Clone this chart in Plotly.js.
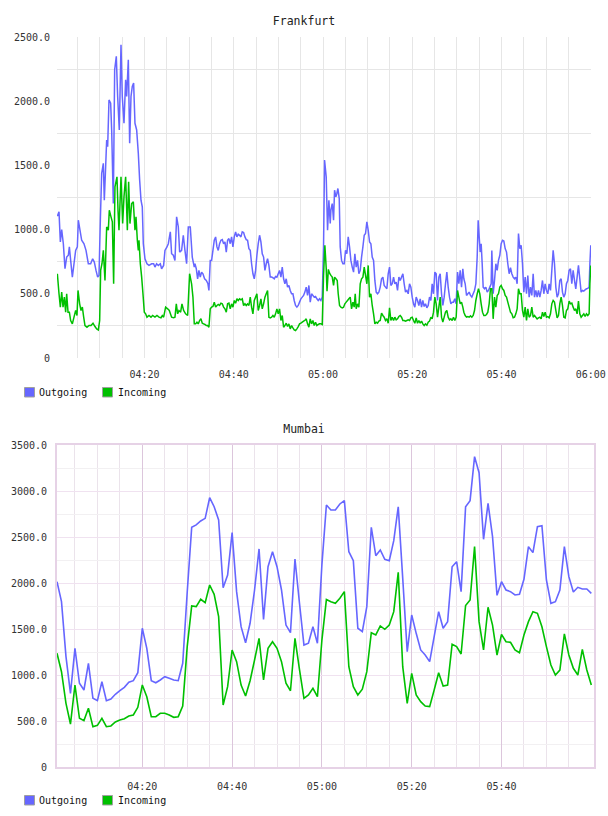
<!DOCTYPE html>
<html>
<head>
<meta charset="utf-8">
<title>Frankfurt / Mumbai traffic</title>
<script src="https://cdn.plot.ly/plotly-3.0.1.min.js"></script>
<style>
  html, body { margin: 0; padding: 0; background: #fff; }
  #frankfurt, #mumbai { width: 608px; height: 408px; }
</style>
</head>
<body>
<div id="frankfurt"></div>
<div id="mumbai"></div>
<script>
// ---- Series names and colours ----
const seriesNames = ['Outgoing', 'Incoming'];
const seriesColors = ['#6666ff', '#00c000'];

// ---- Time axis: minutes after 04:00 ----
const timeTickVals = [20, 40, 60, 80, 100, 120];
const timeTickText = ['04:20', '04:40', '05:00', '05:20', '05:40', '06:00'];
const fiveMinuteMarks = [5, 10, 15, 25, 30, 35, 45, 50, 55, 65, 70, 75, 85, 90, 95, 105, 110, 115, 120];

// ---- Value axes ----
const frankfurtTickVals = [0, 500, 1000, 1500, 2000, 2500];
const frankfurtTickText = ['0', '500.0', '1000.0', '1500.0', '2000.0', '2500.0'];
const mumbaiTickVals = [0, 500, 1000, 1500, 2000, 2500, 3000, 3500];
const mumbaiTickText = ['0', '500.0', '1000.0', '1500.0', '2000.0', '2500.0', '3000.0', '3500.0'];

// ---- Frankfurt: [minute after 04:00, value] ----
const frankfurtOutgoing = [
  [0.48,1104],[0.85,1138],[1.15,904],[1.45,1000],[1.82,890],[2.19,695],[2.57,786],[2.94,800],[3.17,865],[3.46,760],
  [3.84,630],[4.21,734],[4.58,838],[4.96,865],[5.18,1073],[5.55,995],[5.93,917],[6.45,890],[6.9,838],[7.42,734],
  [7.94,734],[8.39,773],[8.76,747],[9.14,682],[9.51,630],[9.81,643],[10.11,1073],[10.41,1437],[10.78,1516],[11.0,1229],
  [11.3,1490],[11.53,1698],[11.75,1646],[12.05,2010],[12.42,1984],[12.65,1776],[13.02,1203],[13.32,2245],[13.69,2349],[13.99,2037],
  [14.36,1776],[14.74,2440],[15.03,2037],[15.41,1828],[15.78,2167],[16.01,2037],[16.38,2323],[16.68,1672],[16.98,2037],[17.27,2115],
  [17.57,2141],[17.87,1828],[18.25,1776],[18.62,1594],[18.92,1385],[19.22,1229],[19.51,1177],[19.74,890],[20.11,773],[20.56,734],
  [21.01,721],[21.6,734],[22.05,734],[22.35,708],[22.72,734],[23.1,721],[23.55,734],[23.84,695],[24.29,721],[24.59,838],
  [25.04,865],[25.34,890],[25.79,982],[26.08,812],[26.46,800],[26.83,760],[27.2,1099],[27.58,1021],[27.88,825],[28.32,838],
  [28.7,956],[29.07,838],[29.44,734],[29.82,1021],[30.26,1021],[30.71,786],[31.16,708],
  [31.31,734],[31.61,695],[31.91,617],[32.2,682],[32.5,630],[32.8,669],[33.1,656],[33.47,617],[33.85,604],[34.22,578],[34.44,526],
  [34.74,760],[35.04,760],[35.34,838],[35.64,917],[35.94,943],[36.24,865],[36.53,838],[36.83,890],[37.13,917],[37.43,922],
  [37.73,890],[38.03,904],[38.33,825],[38.62,917],[38.92,930],[39.22,890],[39.52,943],[39.82,865],[40.12,943],[40.42,982],
  [40.71,943],[41.01,964],[41.31,956],[41.61,943],[41.91,982],[42.21,977],[42.51,943],[42.8,922],[43.1,917],[43.4,852],
  [43.7,838],[44.0,734],[44.3,656],[44.6,617],[44.9,682],[45.19,800],[45.49,890],[45.79,956],[46.09,904],[46.39,812],
  [46.69,786],[46.99,682],[47.28,734],[47.58,773],[47.88,721],[48.18,630],[48.48,630],[48.78,625],[49.08,617],[49.37,635],
  [49.67,630],[49.97,656],[50.27,682],[50.57,630],[50.87,708],[51.17,617],[51.46,578],[51.76,617],[52.06,552],[52.36,565],
  [52.66,526],[52.96,500],[53.26,500],[53.55,448],[53.85,409],[54.15,396],[54.45,409],[54.75,435],[55.05,461],[55.35,474],
  [55.65,487],[55.94,513],[56.24,552],[56.54,487],[56.84,565],[57.14,435],[57.44,500],[57.74,487],[58.03,474],[58.33,479],
  [58.63,461],[58.93,448],[59.23,461],[59.53,448],[59.83,474],
  [60.12,865],[60.35,1542],[60.72,1411],[61.02,995],[61.32,1229],[61.62,1047],
  [61.77,1151],[62.07,1203],[62.37,1073],[62.59,1307],[62.89,1255],[63.11,1281],[63.34,1320],[63.64,1242],[63.86,865],[64.16,760],
  [64.46,734],[64.76,734],[65.05,838],[65.35,812],[65.65,943],[65.95,865],[66.25,760],[66.55,708],[66.85,669],[67.14,812],
  [67.44,708],[67.74,760],[68.04,656],[68.34,682],[68.64,786],[68.94,865],[69.24,956],[69.53,969],[69.83,1060],[70.13,995],
  [70.43,904],[70.73,890],[71.03,786],[71.33,760],[71.62,604],[71.92,513],[72.22,500],[72.52,513],[72.82,552],[73.12,617],
  [73.42,630],[73.71,565],[74.01,552],[74.31,539],[74.61,656],[74.91,708],[75.21,565],[75.51,578],[75.81,630],[76.1,578],
  [76.4,591],[76.7,526],[77.0,630],[77.3,604],[77.6,630],[77.9,656],[78.19,578],[78.49,513],[78.79,526],[79.09,500],
  [79.39,578],[79.69,552],[79.99,474],[80.28,422],[80.58,396],[80.88,474],[81.18,448],[81.48,409],[81.78,461],[82.08,396],
  [82.37,448],[82.67,401],[82.97,422],[83.27,391],[83.57,409],[83.87,474],[84.17,448],[84.46,578],[84.76,500],[85.06,669],
  [85.36,656],[85.66,448],[85.96,630],[86.26,656],[86.56,500],[86.85,409],[87.15,474],[87.45,578],[87.75,669],[88.05,552],
  [88.35,474],[88.65,422],[88.94,435],[89.24,435],[89.54,461],[89.84,422],[90.14,669],[90.44,578],[90.74,682],[91.04,552],
  [91.33,695],
  [91.56,617],[91.86,578],[92.16,487],[92.46,500],[92.75,513],[93.05,487],[93.35,474],[93.65,500],[93.95,526],[94.25,578],
  [94.55,786],[94.77,1073],[95.0,943],[95.22,825],[95.44,890],[95.67,734],[95.89,552],[96.19,539],[96.49,552],[96.79,513],
  [97.08,526],[97.38,552],[97.68,578],[97.83,838],[98.13,500],[98.43,604],[98.73,734],[99.03,682],[99.32,760],[99.62,800],
  [99.92,890],[100.22,917],[100.52,911],[100.82,852],[101.12,825],[101.41,734],[101.71,656],[102.01,703],[102.31,656],[102.61,630],
  [102.91,617],[103.21,630],[103.5,578],[103.8,969],[104.1,852],[104.4,878],[104.7,734],[105.0,513],[105.3,630],[105.6,500],
  [105.89,643],[106.19,474],[106.49,552],[106.79,487],[107.09,656],[107.39,474],[107.69,526],[107.98,474],[108.28,526],[108.58,474],
  [108.88,526],[109.18,604],[109.48,500],[109.78,578],[110.07,526],[110.37,500],[110.67,578],[110.97,526],[111.27,682],[111.57,838],
  [111.87,734],[112.17,552],[112.46,474],[112.76,500],[113.06,604],[113.36,617],[113.66,513],[113.96,474],[114.26,500],[114.55,578],
  [114.85,604],[115.15,682],[115.45,695],[115.75,578],[116.05,682],[116.35,604],[116.64,539],[116.94,630],[117.24,721],[117.54,617],
  [117.84,513],[118.14,526],[118.44,521],[118.73,531],[119.03,539],[119.33,542],[119.63,552],[119.8,734],[120.0,878]
];

const frankfurtIncoming = [
  [0.48,656],[0.85,500],[1.15,396],[1.45,513],[1.75,396],[2.05,474],[2.34,357],[2.57,500],[2.87,357],[3.17,357],
  [3.46,292],[3.84,266],[4.21,318],[4.58,370],[4.88,331],[5.11,526],[5.48,422],[5.78,370],[6.08,396],[6.38,318],
  [6.67,253],[7.12,240],[7.57,253],[8.02,253],[8.47,271],[8.91,245],[9.29,227],[9.66,219],[9.96,292],[10.18,682],
  [10.48,734],[10.78,838],[11.15,604],[11.53,1021],[11.9,995],[12.12,1151],[12.5,1099],[12.8,1060],[13.09,578],[13.39,1333],
  [13.84,1411],[14.07,1151],[14.29,995],[14.74,1411],[15.11,1047],[15.41,1255],[15.78,1411],[16.16,995],[16.45,1372],[16.75,1047],
  [17.13,1203],[17.5,1216],[17.87,995],[18.1,1099],[18.4,917],[18.62,838],[18.77,917],[19.07,734],[19.37,630],[19.66,500],
  [19.96,357],[20.26,344],[20.56,318],[21.01,331],[21.46,318],[21.83,331],[22.35,318],[22.8,331],[23.25,318],[23.7,313],
  [23.99,331],[24.29,318],[24.74,396],[25.19,383],[25.56,370],[26.08,318],[26.53,313],[26.83,318],[27.13,422],[27.43,344],
  [27.73,370],[28.1,357],[28.4,422],[28.77,370],[29.22,344],[29.67,331],[30.11,656],[30.56,578],[30.86,474],[31.16,266],
  [31.46,266],[31.76,279],[32.05,266],[32.35,292],[32.65,305],[32.95,271],[33.25,266],[33.55,261],[33.85,253],[34.14,253],
  [34.44,240],[34.74,383],[35.04,396],[35.34,401],[35.64,435],[35.94,396],[36.24,409],[36.53,417],[36.83,409],[37.13,427],
  [37.43,422],[37.73,396],[38.03,383],[38.33,357],[38.62,422],[38.92,427],[39.22,383],[39.52,422],[39.82,396],[40.12,448],
  [40.42,427],[40.71,461],[41.01,448],[41.31,461],[41.61,453],[41.91,461],[42.21,409],[42.51,422],[42.8,409],[43.1,422],
  [43.4,409],[43.7,474],[44.0,396],[44.3,344],[44.6,448],[44.9,474],[45.19,500],[45.49,370],[45.79,409],[46.09,461],
  [46.39,383],[46.69,422],[46.99,474],[47.28,500],[47.58,526],[47.88,318],[48.18,313],[48.48,318],[48.78,331],[49.08,318],
  [49.37,344],[49.67,383],[49.97,344],[50.27,383],[50.57,292],[50.87,331],[51.17,240],[51.46,253],[51.76,271],[52.06,245],
  [52.36,266],[52.66,227],[52.96,253],[53.26,235],[53.55,219],[53.85,214],[54.15,227],[54.45,245],[54.75,266],[55.05,271],
  [55.35,279],[55.65,287],[55.94,292],[56.24,305],[56.54,266],[56.84,240],[57.14,305],[57.44,266],[57.74,292],[58.03,253],
  [58.33,279],[58.63,253],[58.93,261],[59.23,266],[59.53,266],[59.83,261],
  [60.12,640],[60.42,878],[60.72,700],[60.9,520],[61.2,690],[61.47,660],
  [61.77,643],[62.07,630],[62.37,565],[62.59,630],[62.89,617],[63.19,604],[63.41,500],[63.71,409],[64.01,396],[64.31,391],
  [64.61,396],[64.9,422],[65.2,435],[65.5,448],[65.8,461],[66.1,474],[66.4,383],[66.7,435],[66.99,396],[67.22,500],
  [67.44,383],[67.74,422],[68.04,396],[68.34,578],[68.64,617],[68.94,630],[69.24,708],[69.53,643],[69.83,578],[70.13,721],
  [70.43,474],[70.73,500],[71.03,409],[71.33,344],[71.62,266],[71.92,279],[72.22,271],[72.52,287],[72.82,292],[73.12,349],
  [73.42,331],[73.71,318],[74.01,292],[74.31,305],[74.61,271],[74.91,391],[75.21,292],[75.51,318],[75.81,292],[76.1,318],
  [76.4,297],[76.7,305],[77.0,323],[77.3,331],[77.6,318],[77.9,292],[78.19,292],[78.49,287],[78.79,292],[79.09,297],
  [79.39,292],[79.69,313],[79.99,318],[80.28,292],[80.58,271],[80.88,313],[81.18,271],[81.48,292],[81.78,271],[82.08,287],
  [82.37,266],[82.67,253],[82.97,266],[83.27,255],[83.57,279],[83.87,287],[84.17,318],[84.46,305],[84.76,357],[85.06,474],
  [85.36,422],[85.66,318],[85.96,396],[86.26,474],[86.56,318],[86.85,279],[87.15,318],[87.45,357],[87.75,370],[88.05,318],
  [88.35,297],[88.65,305],[88.94,292],[89.24,318],[89.54,292],[89.84,318],[90.14,526],[90.44,474],[90.74,422],[91.04,435],
  [91.33,396],
  [91.56,357],[91.86,331],[92.16,318],[92.46,323],[92.75,318],[93.05,328],[93.35,318],[93.65,331],[93.95,370],[94.25,448],
  [94.55,500],[94.84,539],[95.14,500],[95.44,422],[95.74,357],[96.04,331],[96.34,331],[96.64,339],[96.93,357],[97.23,422],
  [97.53,539],[97.83,539],[98.13,305],[98.43,474],[98.73,396],[99.03,487],[99.32,500],[99.62,552],[99.92,565],[100.22,539],
  [100.52,526],[100.82,487],[101.12,474],[101.41,435],[101.71,396],[102.01,357],[102.31,344],[102.61,313],[102.91,318],[103.21,344],
  [103.5,383],[103.8,539],[104.1,500],[104.4,500],[104.7,370],[105.0,318],[105.3,396],[105.6,292],[105.89,383],[106.19,318],
  [106.49,331],[106.79,396],[107.09,318],[107.39,331],[107.69,318],[107.98,305],[108.28,313],[108.58,318],[108.88,305],[109.18,357],
  [109.48,323],[109.78,357],[110.07,318],[110.37,323],[110.67,313],[110.97,344],[111.27,422],[111.57,448],[111.87,435],[112.17,370],
  [112.46,313],[112.76,331],[113.06,422],[113.36,474],[113.66,409],[113.96,318],[114.26,313],[114.55,370],[114.85,383],[115.15,443],
  [115.45,422],[115.75,427],[116.05,396],[116.35,370],[116.64,383],[116.94,344],[117.24,443],[117.54,344],[117.84,318],[118.14,331],
  [118.44,344],[118.73,323],[119.03,344],[119.33,331],[119.63,344],[119.8,578],[120.0,721]
];

// ---- Mumbai: [minute after 04:00, value] ----
const mumbaiOutgoing = [
  [1,2014],[2,1797],[3,1200],[4,801],[5,1290],[6,910],[7,837],[8,1127],[9,747],[10,721],
  [11,927],[12,721],[13,739],[14,790],[15,829],[16,866],[17,921],[18,938],[19,1025],[20,1508],
  [21,1290],[22,938],[23,916],[24,946],[25,982],[26,964],[27,946],[28,938],[29,1127],[30,1900],
  [31,2606],[32,2631],[33,2674],[34,2703],[35,2927],[36,2829],[37,2685],[38,1949],[39,2087],[40,2547],
  [41,1906],[42,1525],[43,1351],[44,1562],[45,1924],[46,2370],[47,1605],[48,2177],[49,2340],[50,2177],
  [51,1924],[52,1543],[53,1460],[54,2261],[55,1783],[56,1326],[57,1345],[58,1525],[59,1345],[60,2200],
  [61,2848],[62,2794],[63,2794],[64,2859],[65,2895],[66,2340],[67,2243],[68,1508],[69,1471],[70,1743],
  [71,2606],[72,2297],[73,2359],[74,2258],[75,2243],[76,2460],[77,2829],[78,2050],[79,1253],[80,1652],
  [81,1453],[82,1272],[83,1217],[84,1145],[85,1416],[86,1688],[87,1508],[88,1580],[89,2177],[90,2232],
  [91,1906],[92,2829],[93,2895],[94,3373],[95,3199],[96,2475],[97,2866],[98,2504],[99,1866],[100,2014],
  [101,1924],[102,1906],[103,1870],[104,1877],[105,2040],[106,2395],[107,2330],[108,2612],[109,2623],[110,2033],
  [111,1779],[112,1797],[113,1924],[114,2395],[115,2069],[116,1902],[117,1953],[118,1935],[119,1935],[120,1888]
];

const mumbaiIncoming = [
  [1,1236],[2,1036],[3,692],[4,467],[5,891],[6,529],[7,504],[8,638],[9,438],[10,453],
  [11,529],[12,438],[13,446],[14,489],[15,511],[16,525],[17,554],[18,565],[19,649],[20,891],
  [21,764],[22,547],[23,547],[24,584],[25,584],[26,565],[27,540],[28,547],[29,663],[30,1308],
  [31,1750],[32,1743],[33,1823],[34,1786],[35,1978],[36,1877],[37,1634],[38,674],[39,873],[40,1272],
  [41,1145],[42,891],[43,772],[44,938],[45,1163],[46,1399],[47,946],[48,1290],[49,1362],[50,1290],
  [51,1145],[52,910],[53,829],[54,1399],[55,1060],[56,747],[57,783],[58,855],[59,764],[60,1380],
  [61,1820],[62,1797],[63,1779],[64,1834],[65,1906],[66,1090],[67,873],[68,783],[69,845],[70,1036],
  [71,1460],[72,1435],[73,1533],[74,1497],[75,1543],[76,1688],[77,2116],[78,1090],[79,692],[80,1018],
  [81,783],[82,710],[83,663],[84,656],[85,837],[86,1025],[87,880],[88,891],[89,1334],[90,1308],
  [91,1228],[92,1755],[93,1815],[94,2395],[95,1580],[96,1272],[97,1736],[98,1543],[99,1217],[100,1442],
  [101,1362],[102,1355],[103,1272],[104,1242],[105,1435],[106,1580],[107,1688],[108,1671],[109,1525],[110,1308],
  [111,1109],[112,1000],[113,1054],[114,1446],[115,1217],[116,1073],[117,1000],[118,1279],[119,1054],[120,891]
];

// ---- Rendering ----
const FONT = '"DejaVu Sans Mono", monospace';
const W = 608, H = 408;

function lineTrace(pairs, idx, width) {
  return {
    type: 'scatter', mode: 'lines', name: seriesNames[idx],
    x: pairs.map(p => p[0]), y: pairs.map(p => p[1]),
    line: { color: seriesColors[idx], width: width, simplify: false },
    hoverinfo: 'skip', showlegend: false
  };
}

// Legend keys drawn as small framed squares with labels underneath the plot.
function legendItems(margin) {
  const pw = W - margin.l - margin.r, ph = H - margin.t - margin.b;
  const px = v => (v - margin.l) / pw;
  const py = v => (H - margin.b - v) / ph;
  const keys = [{x0: 24.5, text: 38}, {x0: 102.5, text: 117}];
  const shapes = [], annotations = [];
  keys.forEach((k, i) => {
    shapes.push({ type: 'rect', xref: 'paper', yref: 'paper',
      x0: px(k.x0), x1: px(k.x0 + 10), y0: py(397), y1: py(387.5),
      fillcolor: seriesColors[i], line: { color: '#a0a0a0', width: 1 } });
    annotations.push({ xref: 'paper', yref: 'paper', x: px(k.text), y: py(392.5),
      xanchor: 'left', yanchor: 'middle', showarrow: false, borderpad: 0,
      text: seriesNames[i], font: { family: FONT, size: 10, color: '#111' } });
  });
  return { shapes, annotations };
}

function baseLayout(title, margin) {
  const leg = legendItems(margin);
  return {
    width: W, height: H, margin: Object.assign({ pad: 0 }, margin),
    paper_bgcolor: '#ffffff', plot_bgcolor: '#ffffff', showlegend: false,
    title: { text: title, font: { family: FONT, size: 11.5, color: '#222' },
      x: 0.5, xref: 'container', xanchor: 'center',
      y: 1 - 20.5 / H, yref: 'container', yanchor: 'middle' },
    shapes: leg.shapes, annotations: leg.annotations
  };
}

// Frankfurt
(function () {
  const margin = { l: 57, r: 17, t: 37, b: 50 };
  const layout = baseLayout('Frankfurt', margin);
  layout.xaxis = {
    range: [0.4, 120.05], tickmode: 'array', tickvals: timeTickVals, ticktext: timeTickText,
    showgrid: true, gridcolor: '#e6e6e6', gridwidth: 1, zeroline: false, showline: false, ticks: '',
    tickfont: { family: FONT, size: 10, color: '#333' }, ticklabelstandoff: 9,
    minor: { tickmode: 'array', tickvals: fiveMinuteMarks, showgrid: true, gridcolor: '#e6e6e6', gridwidth: 1, ticks: '' },
    fixedrange: true
  };
  layout.yaxis = {
    range: [0, 2500], tickmode: 'array', tickvals: frankfurtTickVals, ticktext: frankfurtTickText,
    showgrid: false, zeroline: false, showline: false, ticks: '',
    tickfont: { family: FONT, size: 10, color: '#333' }, ticklabelstandoff: 6,
    minor: { tickmode: 'array', tickvals: [250, 750, 1250, 1750, 2250], showgrid: true, gridcolor: '#e6e6e6', gridwidth: 1, ticks: '' },
    fixedrange: true
  };
  Plotly.newPlot('frankfurt',
    [lineTrace(frankfurtOutgoing, 0, 1.5), lineTrace(frankfurtIncoming, 1, 1.5)],
    layout, { staticPlot: true, displayModeBar: false });
})();

// Mumbai
(function () {
  const margin = { l: 57, r: 14, t: 37, b: 49 };
  const layout = baseLayout('Mumbai', margin);
  layout.xaxis = {
    range: [1, 120.6], tickmode: 'array', tickvals: timeTickVals.slice(0, 5), ticktext: timeTickText.slice(0, 5),
    showgrid: true, gridcolor: '#dcc6dc', gridwidth: 1, zeroline: false,
    showline: true, mirror: true, linecolor: '#e6d2e6', linewidth: 2, ticks: '',
    tickfont: { family: FONT, size: 10, color: '#333' }, ticklabelstandoff: 9,
    minor: { tickmode: 'array', tickvals: fiveMinuteMarks.slice(0, -1), showgrid: true, gridcolor: '#ebe3eb', gridwidth: 1, ticks: '' },
    fixedrange: true
  };
  layout.yaxis = {
    range: [0, 3500], tickmode: 'array', tickvals: mumbaiTickVals, ticktext: mumbaiTickText,
    showgrid: true, gridcolor: '#f0e2f0', gridwidth: 1, zeroline: false,
    showline: true, mirror: true, linecolor: '#e6d2e6', linewidth: 2, ticks: '',
    tickfont: { family: FONT, size: 10, color: '#333' }, ticklabelstandoff: 6,
    minor: { tickmode: 'array', tickvals: [250, 750, 1250, 1750, 2250, 2750, 3250], showgrid: true, gridcolor: '#f2f0f2', gridwidth: 1, ticks: '' },
    fixedrange: true
  };
  Plotly.newPlot('mumbai',
    [lineTrace(mumbaiOutgoing, 0, 1.6), lineTrace(mumbaiIncoming, 1, 1.6)],
    layout, { staticPlot: true, displayModeBar: false });
})();
</script>
</body>
</html>
